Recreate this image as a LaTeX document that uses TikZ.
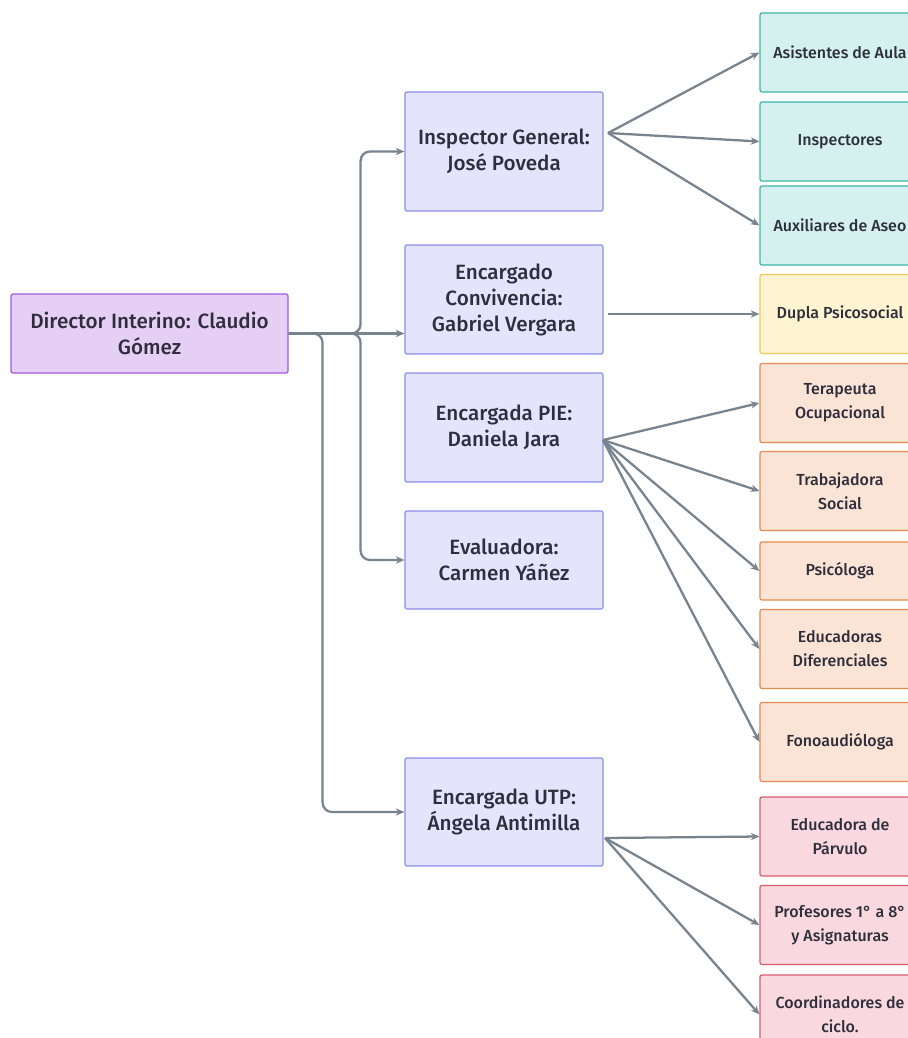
\documentclass[tikz,border=0pt]{standalone}
\usepackage{fontspec}
\setmainfont{Fira Sans}[UprightFont=* Medium]
\usetikzlibrary{arrows.meta}

\definecolor{txt}{HTML}{2E2E3C}
\definecolor{conn}{HTML}{77838F}
\definecolor{dirfill}{HTML}{E6CFF5}
\definecolor{dirline}{HTML}{A259D9}
\definecolor{jeffill}{HTML}{E4E4FD}
\definecolor{jefline}{HTML}{8C8CE8}
\definecolor{tealfill}{HTML}{D4F1F0}
\definecolor{tealline}{HTML}{3FB6A8}
\definecolor{yelfill}{HTML}{FFF4D1}
\definecolor{yelline}{HTML}{EDCB5A}
\definecolor{orafill}{HTML}{FBE3D5}
\definecolor{oraline}{HTML}{E68A4E}
\definecolor{pinkfill}{HTML}{F9D9DF}
\definecolor{pinkline}{HTML}{DA5A6D}

\tikzset{
  box/.style={draw, rounded corners=1.5pt, line width=0.9pt, align=center,
    text=txt, inner sep=2pt},
  jefe/.style={box, fill=jeffill, draw=jefline, minimum width=148.5pt,
    font=\fontsize{15.5}{19.5}\selectfont},
  staff/.style={box, minimum width=120pt, minimum height=59.25pt,
    font=\fontsize{12}{18}\selectfont},
  teal/.style={staff, fill=tealfill, draw=tealline},
  yel/.style={staff, fill=yelfill, draw=yelline},
  ora/.style={staff, fill=orafill, draw=oraline},
  pink/.style={staff, fill=pinkfill, draw=pinkline},
  link/.style={draw=conn, line width=1.7pt, -{Stealth[length=6.5pt,width=5.5pt]}},
}

\begin{document}
\begin{tikzpicture}[x=0.75pt, y=-0.75pt]
    \useasboundingbox[fill=white] (0,0) rectangle (907,1038);

    % director
    \node[box, fill=dirfill, draw=dirline, minimum width=207.75pt, minimum height=59.25pt,
      font=\fontsize{15.5}{19.5}\selectfont] (dir) at (149.5,333.5)
      {Director Interino: Claudio\\Gómez};

    % jefaturas
    \node[jefe, minimum height=89.25pt] (ig) at (504,151.5) {Inspector General:\\José Poveda};
    \node[jefe, minimum height=81.75pt] (ec) at (504,299.5) {Encargado\\Convivencia:\\Gabriel Vergara};
    \node[jefe, minimum height=81.75pt] (pie) at (504,427.5) {Encargada PIE:\\Daniela Jara};
    \node[jefe, minimum height=73.5pt] (eva) at (504,560) {Evaluadora:\\Carmen Yáñez};
    \node[jefe, minimum height=81pt] (utp) at (504,812) {Encargada UTP:\\Ángela Antimilla};

    % equipos
    \node[teal] (asis) at (840,52.5) {Asistentes de Aula};
    \node[teal] (insp) at (840,141.5) {Inspectores};
    \node[teal] (aux) at (840,225.5) {Auxiliares de Aseo};
    \node[yel] (dupla) at (840,314) {Dupla Psicosocial};
    \node[ora] (tera) at (840,403) {Terapeuta\\Ocupacional};
    \node[ora] (trab) at (840,491) {Trabajadora\\Social};
    \node[ora, minimum height=43.5pt] (psico) at (840,571) {Psicóloga};
    \node[ora] (educ) at (840,649) {Educadoras\\Diferenciales};
    \node[ora] (fono) at (840,742) {Fonoaudióloga};
    \node[pink] (parv) at (840,836.5) {Educadora de\\Párvulo};
    \node[pink] (prof) at (840,925) {Profesores 1° a 8°\\y Asignaturas};
    \node[pink] (coord) at (840,1014.5) {Coordinadores de\\ciclo.};

    % salidas
    \coordinate (igout) at (608,133);
    \coordinate (ecout) at (608,314);
    \coordinate (pieout) at (603,440);
    \coordinate (utpout) at (605,838);

    % director -> jefaturas
    \begin{scope}[rounded corners=7pt]
    \draw[link] (dir.east) -- ++(72,0) |- (ig.west);
    \draw[link] (dir.east) -- (dir.east -| ec.west);
    \draw[link] (dir.east) -- ++(72,0) |- (eva.west);
    \draw[link] (dir.east) -- ++(34,0) |- (utp.west);
    \end{scope}

    % jefaturas -> equipos
    \foreach \t in {asis,insp,aux} {\draw[link] (igout) -- (\t.west);}
    \draw[link] (ecout) -- (ecout -| dupla.west);
    \foreach \t in {tera,trab,psico,educ,fono} {\draw[link] (pieout) -- (\t.west);}
    \foreach \t in {parv,prof,coord} {\draw[link] (utpout) -- (\t.west);}
\end{tikzpicture}
\end{document}
